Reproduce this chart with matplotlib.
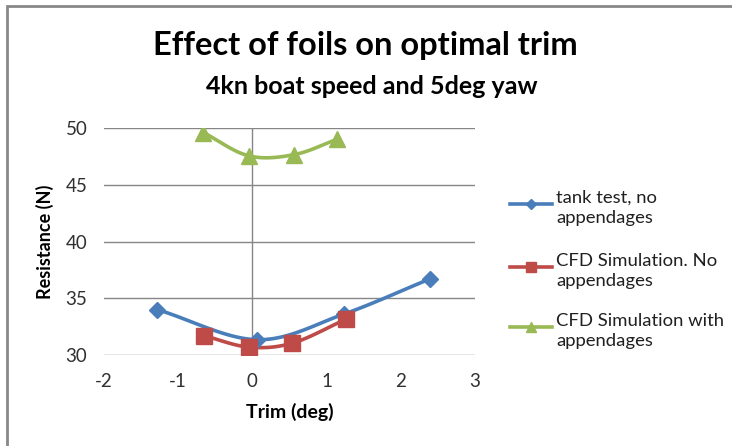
import numpy as np
import matplotlib.pyplot as plt
from matplotlib.lines import Line2D
from matplotlib.patches import Rectangle

plt.rcParams['font.family'] = ['Lato', 'DejaVu Sans']
plt.rcParams['axes.unicode_minus'] = False

# data
tank_x = [-1.28, 0.06, 1.23, 2.39]
tank_y = [34.0, 31.35, 33.6, 36.7]
cfd_x = [-0.65, -0.05, 0.54, 1.26]
cfd_y = [31.7, 30.7, 31.05, 33.15]
app_x = [-0.66, -0.05, 0.56, 1.14]
app_y = [49.6, 47.55, 47.65, 49.0]

labels = ["tank test, no\nappendages",
          "CFD Simulation. No\nappendages",
          "CFD Simulation with\nappendages"]
colors = ["#4A7EBB", "#BE4B48", "#98B954"]
markers = ["D", "s", "^"]
msizes = [8, 11, 11]


def smooth(x, y, n=30):
    # Catmull-Rom curve, like Excel's "smoothed line"
    x = np.asarray(x, float)
    y = np.asarray(y, float)
    px = np.r_[2 * x[0] - x[1], x, 2 * x[-1] - x[-2]]
    py = np.r_[2 * y[0] - y[1], y, 2 * y[-1] - y[-2]]
    xs, ys = [], []
    t = np.linspace(0, 1, n)
    for i in range(1, len(px) - 2):
        for p, out in ((px, xs), (py, ys)):
            p0, p1, p2, p3 = p[i - 1], p[i], p[i + 1], p[i + 2]
            out.append(0.5 * (2 * p1 + (-p0 + p2) * t
                              + (2 * p0 - 5 * p1 + 4 * p2 - p3) * t ** 2
                              + (-p0 + 3 * p1 - 3 * p2 + p3) * t ** 3))
    return np.concatenate(xs), np.concatenate(ys)


W, H = 732, 446
fig = plt.figure(figsize=(W / 100, H / 100), dpi=100)
ax = fig.add_axes([0.142, 0.204, 0.507, 0.509])

grid_c = "#868686"
for v in [30, 35, 40, 45, 50]:
    ax.axhline(v, color=grid_c, lw=1, zorder=1)
ax.axvline(0, color=grid_c, lw=1, zorder=1)

for xs, ys, c, m, ms in zip([tank_x, cfd_x, app_x], [tank_y, cfd_y, app_y],
                            colors, markers, msizes):
    sx, sy = smooth(xs, ys)
    ax.plot(sx, sy, color=c, lw=2.6, zorder=3, solid_capstyle='round')
    ax.plot(xs, ys, ls='none', marker=m, ms=ms, color=c, zorder=4)

ax.set_xlim(-2, 3)
ax.set_ylim(30, 50)
ax.set_xticks([-2, -1, 0, 1, 2, 3])
ax.set_yticks([30, 35, 40, 45, 50])
for s in ax.spines.values():
    s.set_visible(False)
ax.tick_params(length=0, labelsize=13.5, colors="#303030")
ax.tick_params(axis='x', pad=13)
ax.tick_params(axis='y', pad=12)

ax.set_xlabel("Trim (deg)", fontsize=14, fontweight='bold', labelpad=9)
ax.set_ylabel("Resistance (N)", fontsize=13, fontweight='bold', labelpad=8)

fig.text(365 / W, 1 - 46 / H, "Effect of foils on optimal trim", ha='center',
         va='center', fontsize=23.5, fontweight='bold')
fig.text(372 / W, 1 - 87 / H, "4kn boat speed and 5deg yaw", ha='center',
         va='center', fontsize=18, fontweight='bold')

# legend drawn Excel-style: handle level with the first text line
leg_y = [204, 267, 327]
for lab, c, m, ms, y in zip(labels, colors, markers, msizes, leg_y):
    fy = 1 - y / H
    fig.add_artist(Line2D([510 / W, 552 / W], [fy, fy], color=c, lw=2.6,
                          transform=fig.transFigure))
    fig.add_artist(Line2D([531 / W], [fy], marker=m, ms=ms * 0.7, color=c,
                          transform=fig.transFigure))
    fig.text(556 / W, 1 - (y - 14) / H, lab, ha='left', va='top',
             fontsize=13.3, linespacing=1.32, color="#202020")

# chart border (only top and left edge visible)
fig.add_artist(Rectangle((0.009, -0.05), 1.05, 1.037, transform=fig.transFigure,
                         fill=False, ec="#888888", lw=2))

fig.savefig("out.png", dpi=100)
